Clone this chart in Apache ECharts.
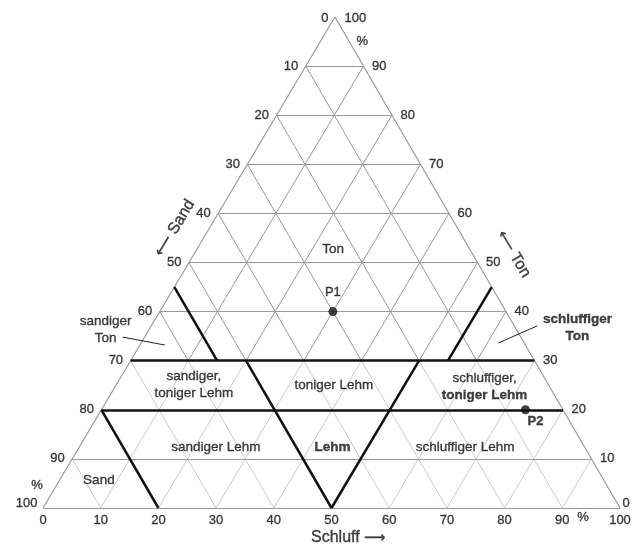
<!DOCTYPE html>
<html><head><meta charset="utf-8">
<script src="https://cdn.jsdelivr.net/npm/echarts@6/dist/echarts.min.js"></script>
<style>html,body{margin:0;padding:0;background:#fff}#c{width:644px;height:551px}</style>
</head><body><div id="c"></div>
<script>
// ---------- data ----------
const gridSteps = [10, 20, 30, 40, 50, 60, 70, 80, 90];
const tickValues = [0, 10, 20, 30, 40, 50, 60, 70, 80, 90, 100];
const schluffTickLabels = ['0', '10', '20', '30', '40', '50', '60', '70', '80', '90', '100'];
const tonTickLabels = ['0', '10', '20', '30', '40', '50', '60', '70', '80', '90', '100'];
const sandTickLabels = ['100', '90', '80', '70', '60', '50', '40', '30', '20', '10', '0'];
// class boundaries, endpoints as [Schluff %, Ton %]
const boundaryFrom = [[0, 30], [0, 20], [0, 20], [0, 45], [20, 30], [50, 0], [55, 30]];
const boundaryTo = [[70, 30], [80, 20], [20, 0], [15, 30], [50, 0], [50, 30], [55, 45]];
// sample points
const sampleNames = ['P1', 'P2'];
const sampleSchluff = [30, 73.5];
const sampleTon = [40, 20];
// class names
const classNames = ['Ton', 'sandiger\nTon', '{b|schluffiger}\n{b|Ton}', 'sandiger,\ntoniger Lehm',
  'toniger Lehm', 'schluffiger,\n{b|toniger Lehm}', 'sandiger Lehm', '{b|Lehm}', 'schluffiger Lehm', 'Sand'];

// ---------- layout ----------
const APEX_X = 50.6; // apex position along the base (scan is slightly sheared)
function proj(silt, clay) { return [silt + clay * APEX_X / 100, clay]; }
const classAnchors = [[23.6, 52.7], [-7.5, 36.25], [74.0, 36.8], [13.5, 25.0], [37.8, 24.9],
  [64.0, 24.75], [23.7, 12.4], [43.9, 12.4], [66.9, 12.4], [6.8, 5.7]];
const leaderLines = [[[-3.8, 34.8], [4.3, 33.2]], [[61.9, 33.6], [66.9, 37.1]]];
const FONT = "'Liberation Sans', Arial, Helvetica, sans-serif";
const TXT = '#111111';
const STROKE = { textBorderColor: '#111111', textBorderWidth: 0.35 };

// grid lines
const gridMain = [], gridFaint = [];
gridSteps.forEach(v => {
  gridMain.push({ coords: [proj(0, v), proj(100 - v, v)] });           // constant Ton
  const top = 100 - v;                                                  // constant Schluff
  gridFaint.push({ coords: [proj(v, 0), proj(v, Math.min(30, top))] });
  if (top > 30) gridMain.push({ coords: [proj(v, 30), proj(v, top)] });
  const k = 100 - v;                                                    // constant Sand
  gridFaint.push({ coords: [proj(k, 0), proj(k - Math.min(30, k), Math.min(30, k))] });
  if (k > 30) gridMain.push({ coords: [proj(k - 30, 30), proj(0, k)] });
});
const edges = [
  { coords: [proj(0, 0), proj(100, 0)] },
  { coords: [proj(0, 0), proj(0, 100)] },
  { coords: [proj(100, 0), proj(0, 100)] }
];
const boundaries = boundaryFrom.map((f, i) => ({ coords: [proj(f[0], f[1]), proj(boundaryTo[i][0], boundaryTo[i][1])] }));
const leaders = leaderLines.map(l => ({ coords: [proj(l[0][0], l[0][1]), proj(l[1][0], l[1][1])] }));

const baseLabel = Object.assign({ show: true, color: TXT, fontFamily: FONT, fontSize: 13 }, STROKE);

// tick labels
const tickItems = [];
tickValues.forEach((v, i) => {
  tickItems.push({ value: proj(v, 0), label: { formatter: schluffTickLabels[i], position: 'bottom', distance: 5 } });
  const lp = { formatter: sandTickLabels[i], position: 'left', distance: 7 };
  if (v === 0) { lp.distance = 5; lp.offset = [0, -5]; }
  if (v === 100) { lp.distance = 6; lp.offset = [0, 1]; }
  tickItems.push({ value: proj(0, v), label: lp });
  const rp = { formatter: tonTickLabels[i], position: 'right', distance: 8 };
  if (v === 0) { rp.distance = 2; rp.offset = [0, -5]; }
  if (v === 100) { rp.distance = 9; rp.offset = [0, 1]; }
  tickItems.push({ value: proj(100 - v, v), label: rp });
});

const classItems = classNames.map((n, i) => ({
  value: proj(classAnchors[i][0], classAnchors[i][1]),
  label: { formatter: n }
}));

const titleItems = [
  { value: proj(56.0, -6.1), label: { formatter: 'Schluff {a|⟶}', fontSize: 16 } },
  { value: proj(-6.0, 57.0), label: { formatter: '{a|⟵} Sand', fontSize: 16, rotate: 59 } },
  { value: proj(55.4, 51.7), label: { formatter: '{a|⟵} Ton', fontSize: 16, rotate: -59 } },
  { value: proj(7.2, 95.1), label: { formatter: '%' } },
  { value: proj(-3.3, 4.5), label: { formatter: '%' } },
  { value: proj(94.6, -2.0), label: { formatter: '%' } }
];

const sampleData = sampleNames.map((n, i) => ({
  name: n, value: proj(sampleSchluff[i], sampleTon[i]),
  label: i === 0 ? { position: 'top', distance: 8 } : { position: 'bottom', distance: 1, offset: [10, 0], fontWeight: 'bold' }
}));

const chart = echarts.init(document.getElementById('c'), null, { renderer: 'canvas' });
const invisible = { color: 'rgba(0,0,0,0)' };
const boldRich = Object.assign({ fontWeight: 'bold', fontFamily: FONT, fontSize: 13.5, color: TXT, lineHeight: 17 }, STROKE);
chart.setOption({
  backgroundColor: '#ffffff',
  animation: false,
  grid: { left: 43, right: 24, top: 17, bottom: 43 },
  xAxis: { type: 'value', min: 0, max: 100, show: false },
  yAxis: { type: 'value', min: 0, max: 100, show: false },
  series: [
    { type: 'lines', coordinateSystem: 'cartesian2d', silent: true, clip: false, data: gridFaint,
      lineStyle: { color: '#cccccc', width: 1, opacity: 1 } },
    { type: 'lines', coordinateSystem: 'cartesian2d', silent: true, clip: false, data: gridMain,
      lineStyle: { color: '#999999', width: 1, opacity: 1 } },
    { type: 'lines', coordinateSystem: 'cartesian2d', silent: true, clip: false, data: edges,
      lineStyle: { color: '#999999', width: 1.2, opacity: 1 } },
    { type: 'lines', coordinateSystem: 'cartesian2d', silent: true, clip: false, data: leaders,
      lineStyle: { color: '#222', width: 1, opacity: 1 } },
    { type: 'lines', coordinateSystem: 'cartesian2d', silent: true, clip: false, data: boundaries,
      lineStyle: { color: '#111111', width: 2.5, opacity: 1 } },
    { type: 'scatter', silent: true, clip: false, symbolSize: 1, itemStyle: invisible, data: tickItems,
      label: Object.assign({}, baseLabel) },
    { type: 'scatter', silent: true, clip: false, symbolSize: 1, itemStyle: invisible, data: classItems,
      label: Object.assign({}, baseLabel, { position: 'inside', fontSize: 13.5, lineHeight: 17, align: 'center',
        rich: { b: boldRich } }) },
    { type: 'scatter', silent: true, clip: false, symbolSize: 1, itemStyle: invisible, data: titleItems,
      label: Object.assign({}, baseLabel, { position: 'inside',
        rich: { a: Object.assign({ fontFamily: "'DejaVu Sans', sans-serif", fontSize: 15, color: TXT }, STROKE) } }) },
    { type: 'scatter', silent: true, clip: false, symbolSize: 9, itemStyle: { color: '#111' }, data: sampleData,
      label: Object.assign({}, baseLabel, { formatter: '{b}', fontSize: 13 }) }
  ]
});
</script></body></html>
